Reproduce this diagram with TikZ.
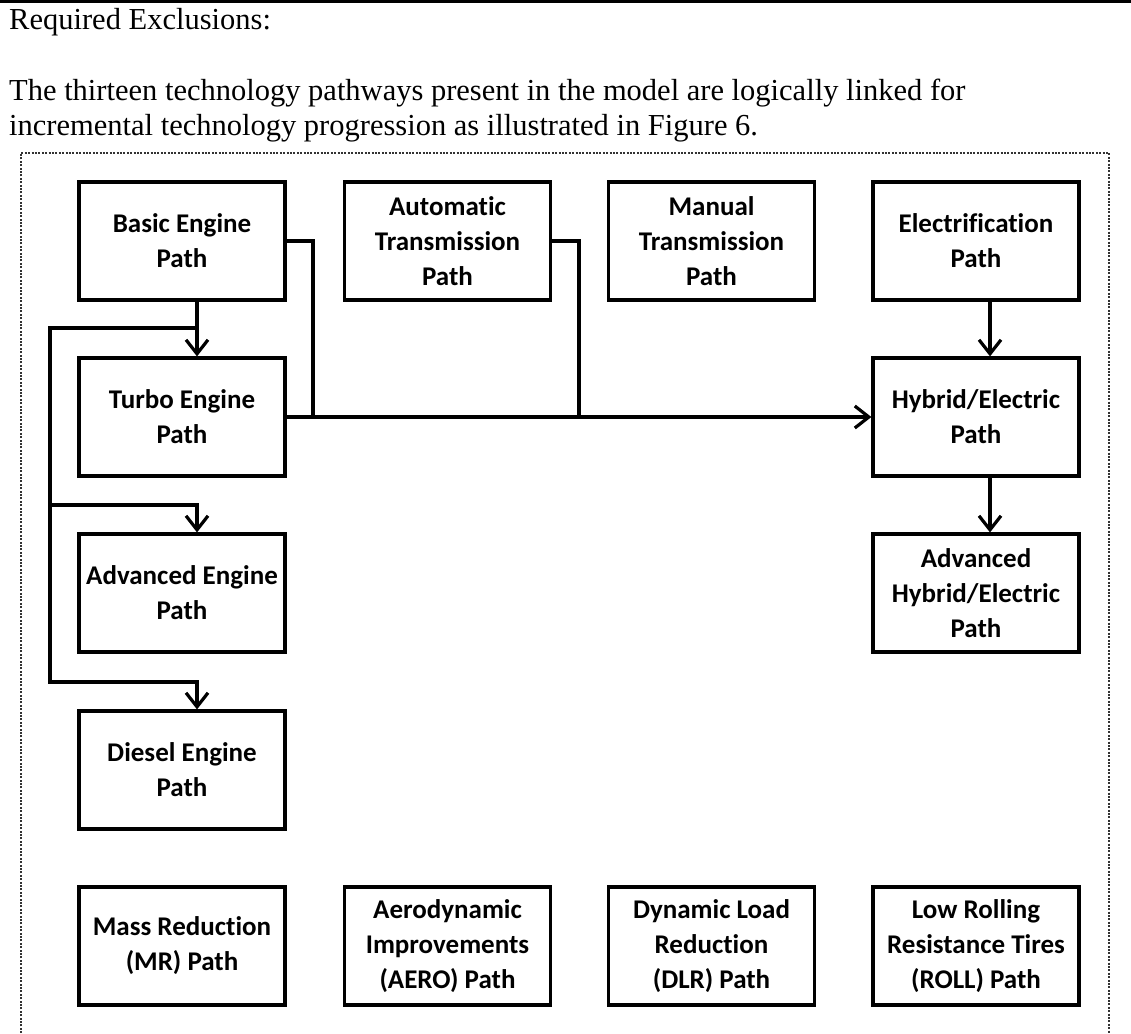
\documentclass[tikz,border=0pt]{standalone}
\usepackage{fontspec}
\setmainfont{Liberation Serif}
\newfontfamily\calib{Carlito}[Ligatures=NoCommon]
\usetikzlibrary{arrows.meta}
\tikzset{
  pathbox/.style={draw, line width=3.2pt, minimum width=206pt, minimum height=118pt, inner sep=0pt, align=center, font={\calib\bfseries\fontsize{27}{35}\selectfont}},
  link/.style={line width=3.2pt},
  linkarrow/.style={line width=3.2pt, -{Straight Barb[length=14pt,width=22pt]}},
  framedots/.style={line width=2.6pt, black!80, dash pattern=on 2pt off 1.4pt},
  bodytext/.style={anchor=base west, inner sep=0pt, font={\fontsize{30.5}{35}\selectfont}}
}
\begin{document}
\begin{tikzpicture}[x=1pt,y=-1pt]
\useasboundingbox (0,0) rectangle (1131,1033);
\clip (0,0) rectangle (1131,1033);
\draw[line width=3.5pt] (0,1.5) -- (1131,1.5);
\node[bodytext] (head) at (9,30) {Required Exclusions:};
\node[bodytext] (para1) at (9,100) {The thirteen technology pathways present in the model are logically linked for};
\node[bodytext] (para2) at (9,135) {incremental technology progression as illustrated in Figure 6.};
\draw[framedots] (21,1040) -- (21,153) -- (1109,153) -- (1109,1040);
\node[pathbox] (basic) at (182,241) {Basic Engine\\Path};
\node[pathbox] (auto) at (447.5,241) {Automatic\\Transmission\\Path};
\node[pathbox] (manual) at (711.5,241) {Manual\\Transmission\\Path};
\node[pathbox] (elec) at (976,241) {Electrification\\Path};
\node[pathbox] (turbo) at (182,417) {Turbo Engine\\Path};
\node[pathbox] (hybrid) at (976,417) {Hybrid/Electric\\Path};
\node[pathbox] (adveng) at (182,593) {Advanced Engine\\Path};
\node[pathbox] (advhyb) at (976,593) {Advanced\\Hybrid/Electric\\Path};
\node[pathbox] (diesel) at (182,770) {Diesel Engine\\Path};
\node[pathbox] (mass) at (182,946) {Mass Reduction\\(MR) Path};
\node[pathbox] (aero) at (447.5,946) {Aerodynamic\\Improvements\\(AERO) Path};
\node[pathbox] (dlr) at (711.5,946) {Dynamic Load\\Reduction\\(DLR) Path};
\node[pathbox] (roll) at (976,946) {Low Rolling\\Resistance Tires\\(ROLL) Path};
\coordinate (basicjoin) at (313,417);
\coordinate (autojoin) at (579,417);
\coordinate (split) at (197,328);
\coordinate (railtop) at (50,328);
\coordinate (railmid) at (50,505);
\coordinate (railbot) at (50,682);
\draw[link] (basic.east) -| (basicjoin);
\draw[link] (auto.east) -| (autojoin);
\draw[linkarrow] (turbo.east) -- (hybrid.west);
\draw[linkarrow] ([xshift=15pt]basic.south) -- ([xshift=15pt]turbo.north);
\draw[linkarrow] (split) -- (railtop) -- (railbot) -| ([xshift=15pt]diesel.north);
\draw[linkarrow] (railmid) -| ([xshift=15pt]adveng.north);
\draw[linkarrow] ([xshift=14pt]elec.south) -- ([xshift=14pt]hybrid.north);
\draw[linkarrow] ([xshift=14pt]hybrid.south) -- ([xshift=14pt]advhyb.north);
\end{tikzpicture}
\end{document}
